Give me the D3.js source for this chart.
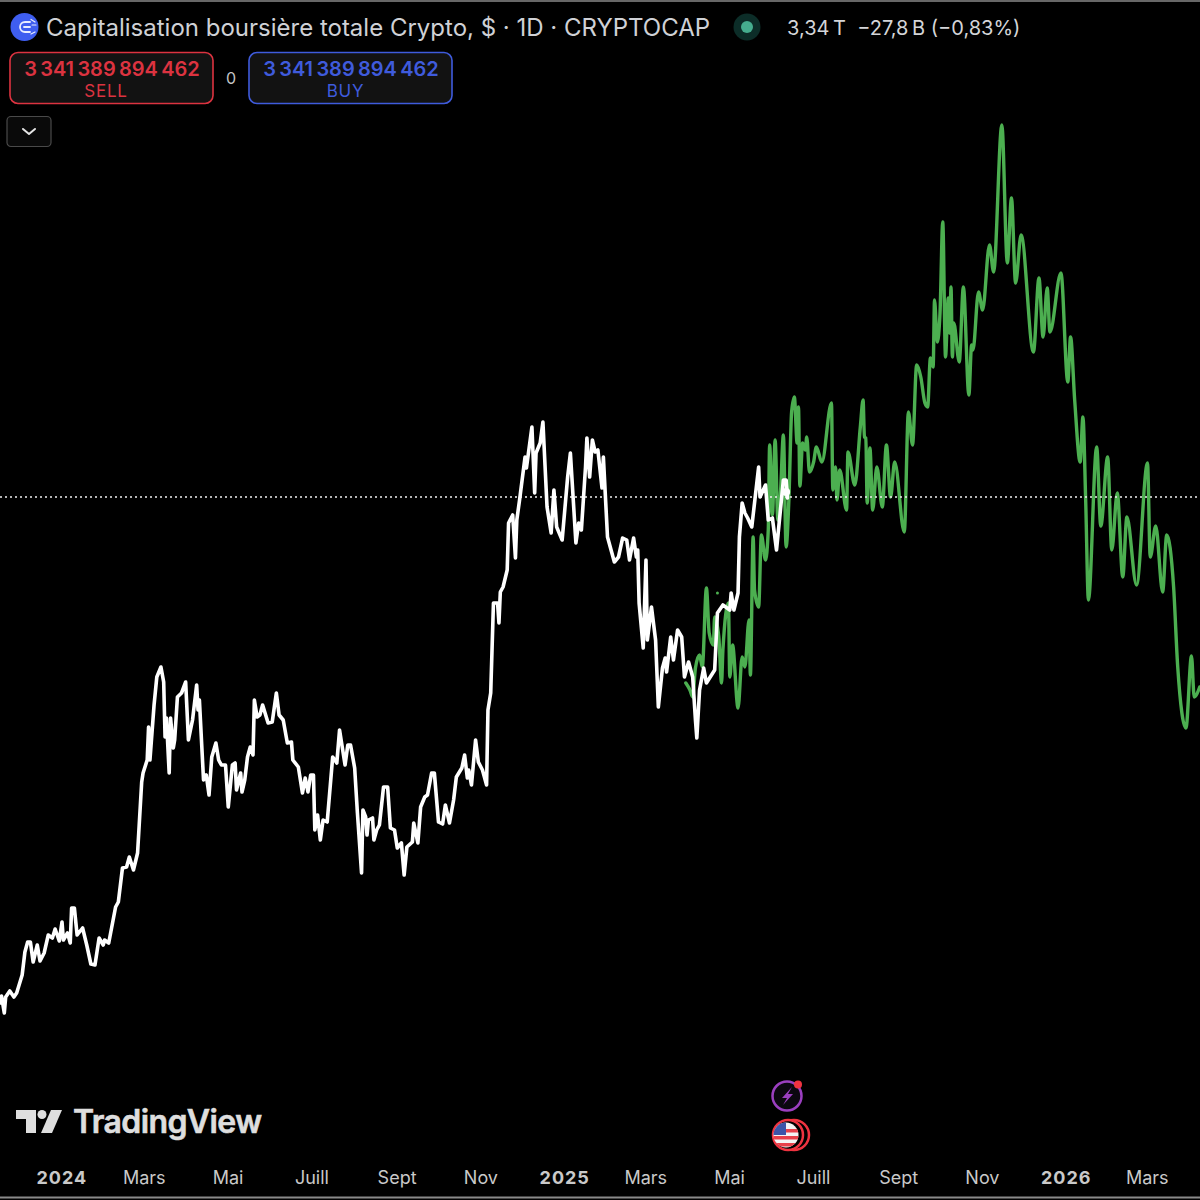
<!DOCTYPE html>
<html><head><meta charset="utf-8">
<script src="https://cdn.jsdelivr.net/npm/d3@7/dist/d3.min.js"></script>
<style>html,body{margin:0;padding:0;background:#000}svg{display:block}text{font-family:Inter,"Noto Sans",sans-serif}</style>
</head><body><svg id="c" width="1200" height="1200"></svg>
<script>
// Days since 2024-01-01, values in trillions of USD
const actualDays=[-45,-44,-42,-41,-38,-35,-33,-29,-27,-25,-23,-21,-18,-16,-13,-10,-7,-5,-2,0,1,4,6,7,9,11,15,18,21,24,27,30,31,34,39,41,44,47,49,52,55,58,59,62,63,64,67,69,72,74,75,76,78,79,81,82,84,87,90,92,95,98,99,100,103,105,107,109,112,114,116,119,121,124,126,127,130,131,133,135,137,139,140,142,144,146,150,153,156,158,161,164,167,168,172,175,177,179,181,183,184,186,188,190,193,197,200,202,206,208,210,213,215,218,219,221,222,223,226,227,229,231,234,237,239,242,244,247,249,251,255,256,259,261,264,266,269,271,274,277,279,282,285,287,291,293,295,296,298,301,303,306,309,310,312,314,317,318,319,321,324,325,328,330,331,333,337,338,342,344,345,348,350,353,356,358,360,364,368,370,374,376,378,381,382,384,386,388,390,393,394,397,402,405,408,411,413,416,418,419,420,423,425,426,429,432,434,437,439,440,443,445,448,451,453,456,459,461,462,464,467,469,475,477,481,486,487,489,492,493,495,497,499,502,504,507,508,512,514,517,520,525,527,528];
const actualValues=[1.316,1.344,1.276,1.340,1.364,1.340,1.356,1.428,1.520,1.560,1.560,1.480,1.548,1.484,1.516,1.588,1.576,1.612,1.564,1.640,1.568,1.596,1.556,1.696,1.696,1.588,1.616,1.548,1.472,1.468,1.576,1.548,1.568,1.556,1.700,1.720,1.856,1.860,1.900,1.848,1.916,2.200,2.236,2.288,2.420,2.288,2.508,2.620,2.660,2.600,2.380,2.456,2.236,2.456,2.336,2.368,2.540,2.556,2.600,2.368,2.448,2.588,2.488,2.528,2.208,2.228,2.148,2.300,2.356,2.288,2.268,2.268,2.100,2.268,2.276,2.168,2.236,2.160,2.208,2.300,2.340,2.308,2.528,2.460,2.468,2.508,2.436,2.440,2.556,2.468,2.448,2.356,2.360,2.288,2.260,2.156,2.216,2.160,2.228,2.228,2.008,2.068,1.968,2.048,2.040,2.300,2.276,2.408,2.268,2.348,2.348,2.256,2.076,1.836,2.088,2.060,1.988,2.048,2.056,1.968,2.008,2.028,2.180,2.180,2.016,2.008,1.936,1.956,1.828,1.940,1.960,2.036,1.956,2.100,2.140,2.148,2.236,2.236,2.040,2.032,2.108,2.036,2.128,2.220,2.256,2.308,2.216,2.248,2.188,2.368,2.280,2.248,2.188,2.488,2.556,2.916,2.916,2.836,2.960,2.980,3.048,3.236,3.268,3.096,3.248,3.328,3.500,3.456,3.620,3.356,3.516,3.556,3.640,3.300,3.196,3.368,3.220,3.168,3.420,3.516,3.156,3.236,3.208,3.460,3.576,3.420,3.568,3.520,3.528,3.376,3.500,3.180,3.080,3.100,3.176,3.168,3.088,3.176,3.100,3.128,2.916,2.736,3.088,2.768,2.900,2.768,2.500,2.656,2.696,2.640,2.780,2.688,2.808,2.780,2.620,2.680,2.620,2.448,2.376,2.568,2.656,2.596,2.648,2.876,2.908,2.888,2.956,2.888,2.956,3.180,3.316,3.276,3.256,3.220,3.316,3.460,3.340,3.388,3.248,3.256,3.128,3.408,3.408,3.336];
const projectionDays=[454,457,459,461,464,466,469,471,474,475,478,480,481,485,486,488,492,495,497,500,501,503,504,507,509,512,514,515,517,519,521,523,525,527,529,531,533,535,536,537,539,541,542,544,547,549,553,560,561,563,564,566,571,572,577,581,583,584,585,586,588,590,593,597,600,603,606,613,616,619,622,625,628,630,632,634,635,637,639,641,643,645,646,647,648,649,653,656,660,662,663,667,670,675,678,684,688,691,694,698,707,711,714,717,719,727,732,734,737,741,743,745,747,753,756,761,764,768,772,775,782,790,792,796,801,804,809,812,818,822,824,828];
const projectionValues=[2.596,2.568,2.540,2.656,2.708,2.660,2.976,2.796,2.748,2.860,2.780,2.596,2.728,2.916,2.620,2.748,2.496,2.700,2.660,2.848,2.628,3.180,2.968,2.900,3.188,3.088,3.208,3.548,3.268,3.568,3.248,3.368,3.588,3.140,3.328,3.680,3.740,3.556,3.700,3.384,3.556,3.528,3.580,3.440,3.480,3.540,3.480,3.716,3.368,3.460,3.328,3.448,3.288,3.520,3.388,3.620,3.728,3.580,3.576,3.316,3.536,3.288,3.460,3.300,3.548,3.340,3.480,3.200,3.680,3.548,3.868,3.820,3.716,3.700,3.896,3.860,4.128,3.960,4.076,4.440,3.900,4.136,3.996,4.180,3.900,4.036,3.880,4.180,3.748,3.948,3.928,4.160,4.088,4.348,4.240,4.828,4.276,4.536,4.196,4.388,3.920,4.216,3.980,4.176,4.000,4.236,3.800,3.980,3.728,3.480,3.660,3.328,2.928,3.540,3.224,3.500,3.128,3.356,3.020,3.260,2.988,3.476,3.100,3.224,2.960,3.188,2.980,2.660,2.416,2.704,2.540,2.580];
const strayDays=[477];
const strayValues=[2.956];
const tickDates=["2024-01-01","2024-03-01","2024-05-01","2024-07-01","2024-09-01","2024-11-01","2025-01-01","2025-03-01","2025-05-01","2025-07-01","2025-09-01","2025-11-01","2026-01-01","2026-03-01"];
const tickLabels=["2024","Mars","Mai","Juill","Sept","Nov","2025","Mars","Mai","Juill","Sept","Nov","2026","Mars"];
const lastValue=3.34;
const titleText="Capitalisation boursière totale Crypto, $ · 1D · CRYPTOCAP";
const quoteText="3,34\u2009T  −27,8\u2009B (−0,83%)";
const orderPrice="3\u2009341\u2009389\u2009894\u2009462";

const svg=d3.select("#c");
svg.append("rect").attr("width",1200).attr("height",1200).attr("fill","#000");
const origin=Date.UTC(2024,0,1);
const toDate=d=>new Date(origin+d*864e5);
const x=d3.scaleUtc().domain([new Date("2024-01-01"),new Date("2026-03-01")]).range([62,1147.5]);
const y=d3.scaleLinear().domain([1,5]).range([1082,82]);
const line=d3.line().x(d=>x(toDate(d[0]))).y(d=>y(d[1])).curve(d3.curveLinear);
const smooth=d3.line().x(d=>x(toDate(d[0]))).y(d=>y(d[1])).curve(d3.curveMonotoneX);
const plot=svg.append("g");

// frame edges
svg.append("line").attr("x1",0).attr("x2",1200).attr("y1",1).attr("y2",1).attr("stroke","#8a8a8a").attr("stroke-width",1.5);
svg.append("line").attr("x1",0).attr("x2",1200).attr("y1",1197.5).attr("y2",1197.5).attr("stroke","#8a8a8a").attr("stroke-width",2);

plot.append("path").attr("d",smooth(d3.zip(projectionDays,projectionValues))).attr("fill","none").attr("stroke","#4caf50").attr("stroke-width",3.4).attr("stroke-linejoin","round").attr("stroke-linecap","round");
plot.selectAll("circle.s").data(d3.zip(strayDays,strayValues)).join("circle").attr("class","s").attr("cx",d=>x(toDate(d[0]))).attr("cy",d=>y(d[1])).attr("r",1.5).attr("fill","#4caf50");
plot.append("line").attr("x1",0).attr("x2",1200).attr("y1",y(lastValue)).attr("y2",y(lastValue)).attr("stroke","#f0f0f0").attr("stroke-width",1.6).attr("stroke-dasharray","2 3");
plot.append("path").attr("d",line(d3.zip(actualDays,actualValues))).attr("fill","none").attr("stroke","#fff").attr("stroke-width",3.6).attr("stroke-linejoin","round").attr("stroke-linecap","round");
plot.append("circle").attr("cx",x(toDate(527))).attr("cy",y(3.36)).attr("r",4).attr("fill","#fff");

// axis
const axis=d3.axisBottom(x).tickValues(tickDates.map(s=>new Date(s))).tickFormat((d,i)=>tickLabels[i]).tickSize(0).tickPadding(0);
const ag=svg.append("g").attr("transform","translate(-0.7,1163)").call(axis);
ag.select(".domain").remove();
ag.selectAll("text").attr("dy","0").attr("y",21).attr("fill","#c9c9c9").style("font-size","18px").style("font-family","Inter")
  .attr("font-weight",(d,i)=>/^\d/.test(tickLabels[i])?700:400)
  .style("letter-spacing",(d,i)=>/^\d/.test(tickLabels[i])?"1px":"0");

// header
svg.append("circle").attr("cx",24.5).attr("cy",27).attr("r",14).attr("fill","#3f5ef0");
const ic=svg.append("g").attr("fill","none").attr("stroke","#e9edff").attr("stroke-width",1.8).attr("stroke-linecap","round");
ic.append("path").attr("d","M30 22 H25 a5 5 0 0 0 0 10 H30");
ic.append("path").attr("d","M30 27 H24");
ic.append("path").attr("d","M31 19.5 L35 22 M32 25 H36 M31 34 L35 32").attr("stroke-width",1.2);
svg.append("text").attr("x",46).attr("y",36).attr("fill","#cfd1d6").style("font-size","24px").text(titleText);
svg.append("circle").attr("cx",747).attr("cy",27).attr("r",13.5).attr("fill","#0c2d28");
svg.append("circle").attr("cx",747).attr("cy",27).attr("r",6).attr("fill","#45ad8e");
svg.append("text").attr("x",787).attr("y",35).attr("fill","#d4d5d8").style("font-size","20px").style("white-space","pre").text(quoteText);

function btn(xp,col,lab,labX){
  svg.append("rect").attr("x",xp).attr("y",52.5).attr("width",203).attr("height",51).attr("rx",8).attr("fill","#121212").attr("stroke",col).attr("stroke-width",1.6);
  svg.append("text").attr("x",xp+102).attr("y",76).attr("text-anchor","middle").attr("fill",col).attr("font-weight",600).style("font-size","20px").text(orderPrice);
  svg.append("text").attr("x",labX).attr("y",96.5).attr("text-anchor","middle").attr("fill",col).style("font-size","17px").style("letter-spacing","0.8px").text(lab);
}
btn(10,"#dc3340","SELL",106);
btn(249,"#3f5bdc","BUY",345.5);
svg.append("text").attr("x",231).attr("y",84).attr("text-anchor","middle").attr("fill","#c4c4c4").style("font-size","16px").text("0");
svg.append("rect").attr("x",7).attr("y",116.5).attr("width",44).attr("height",30).attr("rx",4).attr("fill","#0a0a0a").attr("stroke","#4a4a4a").attr("stroke-width",1.2);
svg.append("path").attr("d","M23 129 L29 134 L35 129").attr("fill","none").attr("stroke","#e5e5e5").attr("stroke-width",2).attr("stroke-linecap","round").attr("stroke-linejoin","round");

// watermark
const wm=svg.append("g").attr("fill","#dedede");
wm.append("path").attr("d","M16 1110 H36 V1133 H26 V1119 H16 Z");
wm.append("circle").attr("cx",42).attr("cy",1114.5).attr("r",4.5);
wm.append("path").attr("d","M51 1110 H62 L52 1133 H41 Z");
svg.append("text").attr("x",73).attr("y",1133).attr("fill","#dedede").attr("stroke","#dedede").attr("stroke-width",0.6).attr("font-weight",600).style("font-size","32px").style("letter-spacing","-0.6px").text("TradingView");

// event icons
svg.append("circle").attr("cx",787).attr("cy",1096).attr("r",14.5).attr("fill","#0b0710").attr("stroke","#9b3fc0").attr("stroke-width",2.5);
svg.append("path").attr("d","M792 1087 L782 1098 H787 L783 1105 L793 1094 H788 Z").attr("fill","#9b3fc0");
svg.append("circle").attr("cx",798).attr("cy",1084.5).attr("r",4).attr("fill","#ef3340");
svg.append("circle").attr("cx",794).attr("cy",1135).attr("r",15).attr("fill","#000").attr("stroke","#ef3340").attr("stroke-width",2.5);
svg.append("circle").attr("cx",788).attr("cy",1135).attr("r",15).attr("fill","#000").attr("stroke","#ef3340").attr("stroke-width",2.5);
const fl=svg.append("g");
svg.append("clipPath").attr("id","fc").append("circle").attr("cx",786).attr("cy",1135).attr("r",12.5);
fl.attr("clip-path","url(#fc)");
fl.append("rect").attr("x",772).attr("y",1122).attr("width",28).attr("height",26).attr("fill","#f4f4f4");
[1129,1136,1143].forEach(v=>fl.append("rect").attr("x",772).attr("y",v).attr("width",28).attr("height",3.5).attr("fill","#e8404a"));
fl.append("rect").attr("x",772).attr("y",1122).attr("width",14).attr("height",13).attr("fill","#3d55a8");
</script></body></html>
